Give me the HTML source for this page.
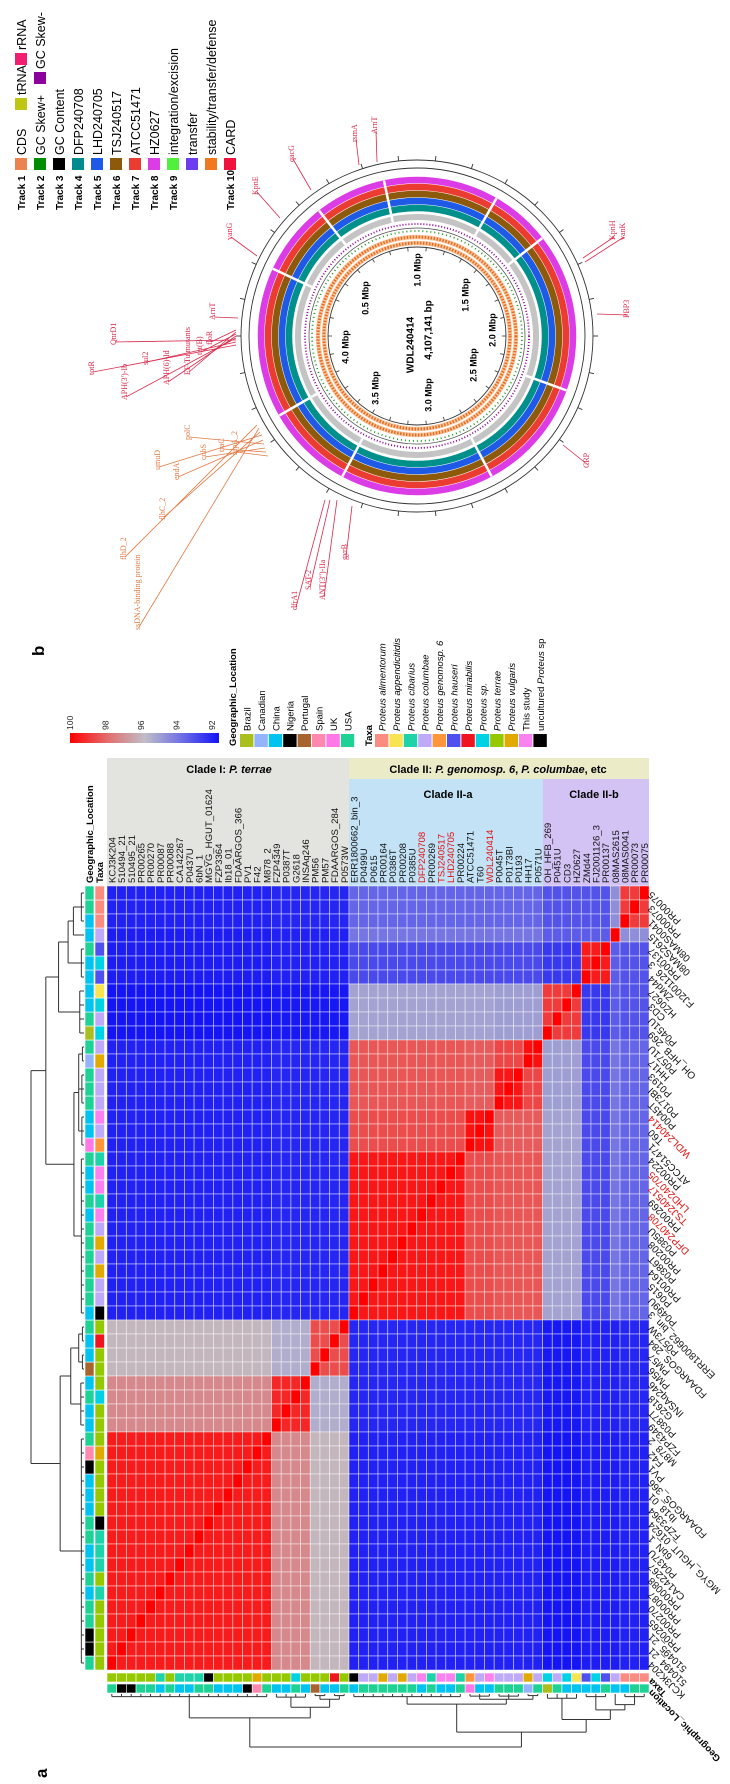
<!DOCTYPE html>
<html><head><meta charset="utf-8">
<style>
html,body{margin:0;padding:0;background:#fff;}
svg{display:block;}
text{font-family:"Liberation Sans",sans-serif;}
.ser{font-family:"Liberation Serif",serif;}
</style></head>
<body>
<svg id="fig" width="730" height="1784" viewBox="0 0 730 1784" xmlns="http://www.w3.org/2000/svg">
<g id="circ"></g>
<g id="circleLegend"></g>
<text transform="translate(47,1778) rotate(-90)" font-size="17" font-weight="bold">a</text>
<text transform="translate(44,656) rotate(-90)" font-size="17" font-weight="bold">b</text>
<g id="hmLegend"></g>
<g id="headers">
  <rect x="107" y="758" width="242" height="128" fill="#e3e3df"/>
  <rect x="349" y="758" width="300" height="21" fill="#ebebc8"/>
  <rect x="349" y="779" width="194" height="107" fill="#c3e2f5"/>
  <rect x="543" y="779" width="106" height="107" fill="#d3c3f5"/>
  <text x="229" y="773" font-size="11" font-weight="bold" text-anchor="middle">Clade I: <tspan font-style="italic">P. terrae</tspan></text>
  <text x="498" y="773" font-size="11" font-weight="bold" text-anchor="middle">Clade II: <tspan font-style="italic">P. genomosp. 6</tspan>, <tspan font-style="italic">P. columbae</tspan>, etc</text>
  <text x="448" y="798" font-size="11" font-weight="bold" text-anchor="middle">Clade II-a</text>
  <text x="594" y="798" font-size="11" font-weight="bold" text-anchor="middle">Clade II-b</text>
</g>
<g id="hm"></g>
</svg>
<script>
const strains = ["KCJ3K204","510494_21","510495_21","PR00265","PR00270","PR00087","PR00088","CA142267","P0437U","6bN_1","MGYG_HGUT_01624","FZP3364","Ib18_01","FDAARGOS_366","PV1","F42","M878_2","FZP4349","P0387T","G2618","INSAq246","PM56","PM57","FDAARGOS_284","P0573W","ERR1800662_bin_3","P0499U","P0615","PR00164","P0386T","PR00208","P0385U","DFP240708","PR00269","TSJ240517","LHD240705","PR00224","ATCC51471","T60","WDL240414","P0045T","P0173BI","P0193","HH17","P0571U","OH_HFB_269","P0451U","CD3","HZ0627","ZMd44","FJ2001126_3","PR00137","08MAS2615","08MAS0041","PR00073","PR00075"];
const highlighted = ["DFP240708","TSJ240517","LHD240705","WDL240414"];
const strainGroup = [0,0,0,0,0,0,0,0,0,0,0,0,0,0,0,0,0,1,1,1,1,2,2,2,2,3,3,3,3,3,3,3,3,3,3,3,3,4,4,4,5,5,5,6,6,7,7,7,7,8,8,8,9,10,10,10];
const groupSim = [
 [99.5,97.3,96.2,92.3,92.3,92.3,92.3,92.0,92.2,92.2,92.3],
 [97.3,99.3,95.6,92.4,92.4,92.4,92.4,92.1,92.3,92.3,92.4],
 [96.2,95.6,98.6,92.4,92.4,92.4,92.4,92.1,92.3,92.3,92.4],
 [92.3,92.4,92.4,99.6,98.6,98.4,98.4,95.3,93.2,94.2,93.8],
 [92.3,92.4,92.4,98.6,99.7,98.3,98.3,95.3,93.2,94.2,93.8],
 [92.3,92.4,92.4,98.4,98.3,99.6,98.7,95.2,93.2,94.2,93.8],
 [92.3,92.4,92.4,98.4,98.3,98.7,99.7,95.2,93.2,94.2,93.8],
 [92.0,92.1,92.1,95.3,95.3,95.2,95.2,98.9,92.8,93.6,93.4],
 [92.2,92.3,92.3,93.2,93.2,93.2,93.2,92.8,99.5,93.6,93.4],
 [92.2,92.3,92.3,94.2,94.2,94.2,94.2,93.6,93.6,100,94.8],
 [92.3,92.4,92.4,93.8,93.8,93.8,93.8,93.4,93.4,94.8,98.9]];
const taxaOf = ["te","te","te","te","te","ci","te","ci","ci","ci","un","te","te","te","te","vu","te","te","te","sp","te","te","te","mi","te",
 "un","co","co","vu","co","vu","co","ts","ci","ts","ts","ci","ge","co","ts","co","co","co","vu","co",
 "sp","co","sp","ap","ha","sp","ha","co","al","al","al"];
const geoOf = ["US","NG","NG","US","US","CN","US","CN","CN","US","US","CN","CN","CN","NG","ES","US","CN","CN","US","CN","PT","CN","CN","US",
 "CN","US","US","US","US","US","US","CN","US","CN","CN","US","UK","CN","CN","US","US","US","CA","US",
 "BR","US","CN","CN","CN","CN","US","CN","CN","US","US"];
const geoKeys = ["BR","CA","CN","NG","PT","ES","UK","US"];
const geoNames = ["Brazil","Canadian","China","Nigeria","Portugal","Spain","UK","USA"];
const geoCols = ["#a8bf1e","#93b4fb","#00c4ef","#000000","#a8642e","#ff88b0","#ff78e6","#1ed296"];
const taxaKeys = ["al","ap","ci","co","ge","ha","mi","sp","te","vu","ts","un"];
const taxaNames = ["Proteus alimentorum","Proteus appendicitidis","Proteus cibarius","Proteus columbae","Proteus genomosp. 6","Proteus hauseri","Proteus mirabilis","Proteus sp.","Proteus terrae","Proteus vulgaris","This study","uncultured Proteus sp"];
const taxaCols = ["#fa8c82","#f8e450","#1ed2aa","#beaaf8","#ff963c","#5050f0","#f01420","#00d2e6","#96c800","#e0aa00","#fa82f0","#000000"];
const scaleTicks = [100,98,96,94,92];
const tree = [1.0,
  [0.45,[0.05,0,1,2,3,4,5,6,7,8,9,10,11,12,13,14,15,16],[0.25,[0.06,17,18,19,20],[0.1,[0.03,21,22],[0.03,23,24]]]],
  [0.72,[0.19,[0.05,25,26,27,28,29,30,31,32,33,34,35,36],[0.1,[0.04,37,38,39],[0.04,40,41,42],[0.03,43,44]]],
        [0.48,[0.08,45,46,47,48],[0.3,[0.05,49,50,51],[0.2,52,[0.05,53,54,55]]]]]];

const NS="http://www.w3.org/2000/svg";
const X0=107, Y0=886, CW=242/25, RH=14, N=strains.length;
function mk(tag,attrs,parent){const e=document.createElementNS(NS,tag);for(const k in attrs)e.setAttribute(k,attrs[k]);parent.appendChild(e);return e;}
const xCol=c=>X0+c*CW, yRow=r=>Y0+r*RH;
const rowOf=i=>N-1-i;
const stops=[[92,[20,20,245]],[94,[110,110,230]],[96,[192,190,198]],[98,[226,108,108]],[100,[255,0,0]]];
function simColor(v){v=Math.max(92,Math.min(100,v));for(let k=0;k<stops.length-1;k++){const[a,ca]=stops[k],[b,cb]=stops[k+1];if(v<=b){const t=(v-a)/(b-a);return "rgb("+ca.map((x,j)=>Math.round(x+(cb[j]-x)*t)).join(",")+")";}}return "rgb(255,0,0)";}
function sim(i,j){return i===j?100:groupSim[strainGroup[i]][strainGroup[j]];}

const hm=document.getElementById('hm');
for(let r=0;r<N;r++){for(let c=0;c<N;c++){
  const i=rowOf(r);
  const cell=mk('rect',{x:xCol(c),y:yRow(r),width:CW,height:RH,fill:simColor(sim(i,c)),stroke:"rgba(255,255,255,0.55)","stroke-width":0.8},hm);
  
  
}}
strains.forEach((s,c)=>{
  const t=mk('text',{transform:`translate(${xCol(c)+CW/2+3.6},883) rotate(-90)`,"font-size":9.6,fill:highlighted.includes(s)?"#e01010":"#111"},hm);
  t.textContent=s;
  
  
});
strains.forEach((s,i)=>{
  const r=rowOf(i);
  const t=mk('text',{transform:`translate(652,${yRow(r)+RH/2-2}) rotate(-135)`,"text-anchor":"end","font-size":10,fill:highlighted.includes(s)?"#e01010":"#111"},hm);
  t.textContent=s;
  
  
});
for(let i=0;i<N;i++){
  const r=rowOf(i);
  const g=mk('rect',{x:85,y:yRow(r),width:9,height:RH,fill:geoCols[geoKeys.indexOf(geoOf[i])],stroke:"#fff","stroke-width":0.6},hm);
  
  
  const t=mk('rect',{x:95,y:yRow(r),width:9.5,height:RH,fill:taxaCols[taxaKeys.indexOf(taxaOf[i])],stroke:"#fff","stroke-width":0.6},hm);
  
  
  const ct=mk('rect',{x:xCol(i),y:1673,width:CW,height:9,fill:taxaCols[taxaKeys.indexOf(taxaOf[i])],stroke:"#fff","stroke-width":0.6},hm);
  
  
  const cg=mk('rect',{x:xCol(i),y:1684,width:CW,height:9,fill:geoCols[geoKeys.indexOf(geoOf[i])],stroke:"#fff","stroke-width":0.6},hm);
  
  
}
[["Geographic_Location",93],["Taxa",103]].forEach(([s,x])=>{
  const t=mk('text',{transform:`translate(${x},883) rotate(-90)`,"font-size":9.5,"font-weight":"bold"},hm);t.textContent=s;
  
  
});
[["Taxa",1678],["Geographic_Location",1689]].forEach(([s,y])=>{
  const t=mk('text',{transform:`translate(652,${y}) rotate(-135)`,"text-anchor":"end","font-size":9.5,"font-weight":"bold"},hm);t.textContent=s;
  
  
});
function drawTree(node,posFn,toPix,orient){
  if(typeof node==="number"){return {p:posFn(node),h:0};}
  const h=node[0];const kids=node.slice(1).map(k=>drawTree(k,posFn,toPix,orient));
  const hp=toPix(h);
  kids.forEach(k=>{const kp=toPix(k.h);
    const l=orient==="row"?mk('line',{x1:kp,y1:k.p,x2:hp,y2:k.p,stroke:"#333","stroke-width":1},hm):mk('line',{x1:k.p,y1:kp,x2:k.p,y2:hp,stroke:"#333","stroke-width":1},hm);
    
    
  });
  const ps=kids.map(k=>k.p);const a=Math.min(...ps),b=Math.max(...ps);
  const v=orient==="row"?mk('line',{x1:hp,y1:a,x2:hp,y2:b,stroke:"#333","stroke-width":1},hm):mk('line',{x1:a,y1:hp,x2:b,y2:hp,stroke:"#333","stroke-width":1},hm);
  
  
  return {p:(a+b)/2,h:h};
}
drawTree(tree,i=>yRow(rowOf(i))+RH/2,h=>84-h*53,"row");
drawTree(tree,i=>xCol(i)+CW/2,h=>1694+h*53,"col");

const lg=document.getElementById('hmLegend');
const defs=mk('defs',{},lg);
const grad=mk('linearGradient',{id:"sg",x1:"0",x2:"1",y1:"0",y2:"0"},defs);
scaleTicks.forEach((v,k)=>{mk('stop',{offset:(k/(scaleTicks.length-1)),"stop-color":simColor(v)},grad);});
const bar=mk('rect',{x:70,y:733,width:149,height:10,fill:"url(#sg)"},lg);


scaleTicks.forEach((v,k)=>{const t=mk('text',{transform:`translate(${73+k*35.5},730) rotate(-90)`,"font-size":8.5,fill:"#222"},lg);t.textContent=v;
  
  });
let t0=mk('text',{transform:"translate(236,746) rotate(-90)","font-size":9.5,"font-weight":"bold"},lg);t0.textContent="Geographic_Location";


geoNames.forEach((n,k)=>{const x=240+k*14.4;
  const b=mk('rect',{x:x,y:734,width:13.4,height:13,fill:geoCols[k]},lg);
  
  
  const t=mk('text',{transform:`translate(${x+10.5},731) rotate(-90)`,"font-size":9.5},lg);t.textContent=n;
  
  });
let t1=mk('text',{transform:"translate(372,746) rotate(-90)","font-size":9.5,"font-weight":"bold"},lg);t1.textContent="Taxa";


taxaNames.forEach((n,k)=>{const x=375+k*14.4;
  const b=mk('rect',{x:x,y:734,width:13.4,height:13,fill:taxaCols[k]},lg);
  
  
  const t=mk('text',{transform:`translate(${x+10.5},731) rotate(-90)`,"font-size":9.5},lg);
  if(n.startsWith("Proteus")){t.setAttribute('font-style','italic');t.textContent=n;}
  else if(n.startsWith("uncultured")){t.innerHTML='uncultured <tspan font-style="italic">Proteus</tspan> sp';}
  else t.textContent=n;
  
  });

const cg=document.getElementById('circ');
const CX=417, CY=336;
const rings=[
 {r:176,w:0.9,c:"#333"},{r:168,w:0.9,c:"#333"},
 {r:156,w:6.5,c:"#dc3ce6"},{r:149,w:6.5,c:"#eb3c32"},{r:142,w:6.5,c:"#8c5a0a"},
 {r:135,w:6.5,c:"#1e5ae6"},{r:128,w:6.5,c:"#00908c"},{r:119,w:6,c:"#c4c4c4"},
 {r:112,w:1.8,c:"#8a0096",d:"1 2"},{r:108,w:0.7,c:"#444"},{r:105,w:1.8,c:"#1a9a1a",d:"1 3"},
 {r:99,w:4.5,c:"#f8c8a0"},{r:99,w:3,c:"#e86a20",d:"1.5 1.5"},{r:93,w:4.5,c:"#f8c8a0"},{r:93,w:3,c:"#e86a20",d:"1.5 1.5"},
 {r:89,w:0.9,c:"#333"}];
rings.forEach(o=>{const e=mk('circle',{cx:CX,cy:CY,r:o.r,fill:"none",stroke:o.c,"stroke-width":o.w},cg);
  if(o.d)e.setAttribute('stroke-dasharray',o.d);
  
  });
[20,62,118,150,205,232,258,300,322].forEach(a=>{const rad=a*Math.PI/180;
  const l=mk('line',{x1:CX+116*Math.cos(rad),y1:CY+116*Math.sin(rad),x2:CX+159*Math.cos(rad),y2:CY+159*Math.sin(rad),stroke:"#fff","stroke-width":2.5},cg);
  
  });
for(let a=0;a<360;a+=12){const rad=a*Math.PI/180;
  const l=mk('line',{x1:CX+176*Math.cos(rad),y1:CY+176*Math.sin(rad),x2:CX+181*Math.cos(rad),y2:CY+181*Math.sin(rad),stroke:"#333","stroke-width":0.9},cg);
  
  
  const l2=mk('line',{x1:CX+89*Math.cos(rad),y1:CY+89*Math.sin(rad),x2:CX+85*Math.cos(rad),y2:CY+85*Math.sin(rad),stroke:"#333","stroke-width":0.8},cg);
  
  }
const centerTexts=[["WDL240414",410,345],["4,107,141 bp",428,330],["0.5 Mbp",365,298],["1.0 Mbp",417,270],["1.5 Mbp",465,295],["2.0 Mbp",492,330],["2.5 Mbp",473,365],["3.0 Mbp",428,395],["3.5 Mbp",375,388],["4.0 Mbp",345,347]];
centerTexts.forEach(([s,x,y],k)=>{const t=mk('text',{transform:`translate(${x+3.5},${y}) rotate(-90)`,"text-anchor":"middle","font-size":k<2?10:9,"font-weight":"bold"},cg);t.textContent=s;
  
  });
const genes=[["rsmA",354,142,"#d8284a",359,165],["ArnT",374,134,"#d8284a",377,162],["qacG",291,162,"#d8284a",311,190],["KpnE",255,195,"#d8284a",280,218],["vanG",229,240,"#d8284a",257,256],
 ["KpnH",612,240,"#d8284a",583,258],["vanK",622,240,"#d8284a",585,262],["PBP3",626,318,"#d8284a",597,314],["CRP",586,468,"#d8284a",563,445],
 ["gyrB",344,560,"#d8284a",352,506],["ANT(3'')-IIa",322,600,"#d8284a",337,500],["SAT-2",308,590,"#d8284a",330,500],["dfrA1",294,610,"#d8284a",325,500],
 ["flhD_2",123,560,"#e07a44",257,425],["ssDNA-binding protein",137,630,"#e07a44",259,428],["flhC_2",162,520,"#e07a44",260,432],["umuD",157,470,"#e07a44",262,435],
 ["endA",176,480,"#e07a44",263,440],["polC",187,440,"#e07a44",264,444],["cobS",203,460,"#e07a44",265,448],["traC",221,452,"#e07a44",266,452],["rapA_2",234,455,"#e07a44",268,456],
 ["totR",91,375,"#d8284a",236,345],["QnrD1",113,345,"#d8284a",236,340],["APH(3')-Ib",124,400,"#d8284a",236,338],["sul2",145,365,"#d8284a",236,342],
 ["APH(6)-Id",166,385,"#d8284a",236,336],["EF-Tu mutants",187,375,"#d8284a",236,332],["tet(B)",199,355,"#d8284a",236,334],["floR",209,345,"#d8284a",236,330],["ArnT",212,320,"#d8284a",238,318]];
genes.forEach(([s,x,y,c,lx,ly])=>{
  const l=mk('line',{x1:x+2,y1:y-3,x2:lx,y2:ly,stroke:c,"stroke-width":0.8},cg);
  
  
  const t=mk('text',{class:"ser",transform:`translate(${x+3},${y}) rotate(-90)`,"font-size":8,fill:c},cg);t.textContent=s;
  
  
});

const cl=document.getElementById('circleLegend');
const legRows=[
 ["Track 1",[["CDS","#eb8250",158],["tRNA","#bec814",98],["rRNA","#f01e6e",53]]],
 ["Track 2",[["GC Skew+","#008c00",158],["GC Skew-","#8c00a0",72]]],
 ["Track 3",[["GC Content","#000000",158]]],
 ["Track 4",[["DFP240708","#008c8c",158]]],
 ["Track 5",[["LHD240705","#1e5ae6",158]]],
 ["Track 6",[["TSJ240517","#8c5a0a",158]]],
 ["Track 7",[["ATCC51471","#eb3c32",158]]],
 ["Track 8",[["HZ0627","#dc3ce6",158]]],
 ["Track 9",[["integration/excision","#50f03c",158]]],
 ["",[["transfer","#6e3cf0",158]]],
 ["",[["stability/transfer/defense","#f0781e",158]]],
 ["Track 10",[["CARD","#f0143c",158]]]];
legRows.forEach(([tr,items],k)=>{const cx=21+k*19;
  if(tr){const t=mk('text',{transform:`translate(${cx+4},210) rotate(-90)`,"font-size":10,"font-weight":"bold"},cl);t.textContent=tr;
    
    }
  items.forEach(([n,c,y])=>{
    const b=mk('rect',{x:cx-6,y:y,width:12,height:12,fill:c},cl);
    
    
    const t=mk('text',{transform:`translate(${cx+5},${y-3}) rotate(-90)`,"font-size":12.5},cl);t.textContent=n;
    
    
  });
});
</script>
</body></html>
